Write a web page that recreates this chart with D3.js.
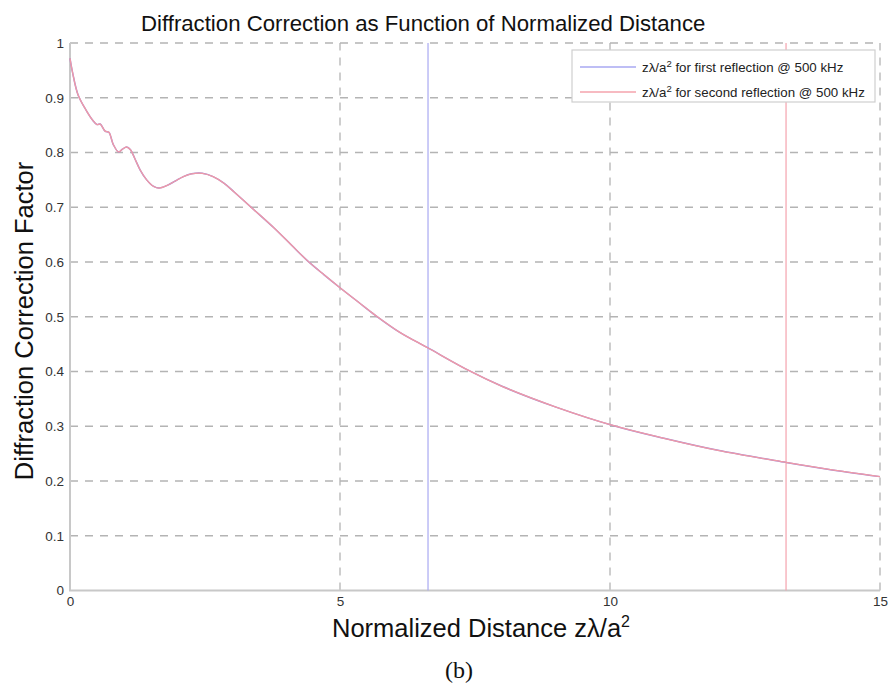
<!DOCTYPE html>
<html>
<head>
<meta charset="utf-8">
<script src="https://cdn.jsdelivr.net/npm/d3@7"></script>
<style>
  html, body { margin: 0; padding: 0; background: #fff; }
  svg { display: block; }
</style>
</head>
<body>
<div id="chart"></div>
<script>
/* diffraction correction vs normalized distance z*lambda/a^2 */

// normalized distance samples
var distance = [0, 0.05, 0.15, 0.3, 0.42, 0.5, 0.56, 0.65, 0.72, 0.8, 0.9, 0.97, 1.05, 1.12,
  1.2, 1.3, 1.42, 1.55, 1.65, 1.8, 1.95, 2.1, 2.25, 2.45, 2.65, 2.85, 3.05, 3.4, 3.77,
  4.1, 4.39, 4.7, 5.0, 5.35, 5.65, 6.1, 6.63, 7.4, 8.0, 9.0, 10.07, 11, 12, 13.26, 14, 15];

// diffraction correction factor, first reflection @ 500 kHz
var firstReflection = [0.972, 0.945, 0.905, 0.877, 0.859, 0.851, 0.852, 0.839, 0.837, 0.815, 0.801,
  0.806, 0.81, 0.805, 0.789, 0.768, 0.75, 0.738, 0.735, 0.74, 0.748, 0.756, 0.761, 0.762,
  0.756, 0.744, 0.727, 0.696, 0.663, 0.631, 0.603, 0.577, 0.553, 0.526, 0.503, 0.472, 0.443,
  0.401, 0.373, 0.335, 0.301, 0.278, 0.256, 0.234, 0.222, 0.208];

// second reflection overlaps the first on this plot
var secondReflection = [0.972, 0.945, 0.905, 0.877, 0.859, 0.851, 0.852, 0.839, 0.837, 0.815, 0.801,
  0.806, 0.81, 0.805, 0.789, 0.768, 0.75, 0.738, 0.735, 0.74, 0.748, 0.756, 0.761, 0.762,
  0.756, 0.744, 0.727, 0.696, 0.663, 0.631, 0.603, 0.577, 0.553, 0.526, 0.503, 0.472, 0.443,
  0.401, 0.373, 0.335, 0.301, 0.278, 0.256, 0.234, 0.222, 0.208];

// normalized distance of each reflection marker
var reflectionMarks = [6.63, 13.26];

var xTicks = [0, 5, 10, 15];
var yTicks = [0, 0.1, 0.2, 0.3, 0.4, 0.5, 0.6, 0.7, 0.8, 0.9, 1];

var W = 891, H = 692;
var SANS = 'Liberation Sans, Arial, Helvetica, sans-serif';
var BLUE = '#a9a9f2', RED = '#f4a3ad';

var svg = d3.select('#chart').append('svg')
  .attr('width', W).attr('height', H);

var x = d3.scaleLinear().domain([0, 15]).range([70, 880]);
var y = d3.scaleLinear().domain([0, 1]).range([590.5, 43]);

/* grid */
var grid = svg.append('g')
  .attr('stroke', '#b4b4b4').attr('stroke-width', 1.3)
  .attr('stroke-dasharray', '8,7');
grid.selectAll('line.h').data(yTicks.slice(1)).enter().append('line')
  .attr('x1', x(0)).attr('x2', x(15))
  .attr('y1', function (d) { return y(d); }).attr('y2', function (d) { return y(d); });
grid.selectAll('line.v').data(xTicks.slice(1)).enter().append('line')
  .attr('y1', y(0)).attr('y2', y(1))
  .attr('x1', function (d) { return x(d); }).attr('x2', function (d) { return x(d); });

/* axes */
var yAxis = svg.append('g').attr('transform', 'translate(' + x(0) + ',0)')
  .call(d3.axisLeft(y).tickValues(yTicks).tickSize(0).tickPadding(6)
    .tickFormat(function (d) { return String(+d.toFixed(1)); }));
var xAxis = svg.append('g').attr('transform', 'translate(0,' + y(0) + ')')
  .call(d3.axisBottom(x).tickValues(xTicks).tickSize(0).tickPadding(6)
    .tickFormat(d3.format('d')));
[yAxis, xAxis].forEach(function (a) {
  a.select('.domain').remove();
  a.selectAll('text').attr('font-family', SANS).attr('font-size', 13.5).attr('fill', '#333');
});
svg.append('path')
  .attr('d', 'M' + x(0) + ',' + y(1) + 'V' + y(0) + 'H' + x(15))
  .attr('fill', 'none').attr('stroke', '#c8c8c8').attr('stroke-width', 2);

/* reflection markers */
svg.selectAll('line.mark').data(reflectionMarks).enter().append('line')
  .attr('x1', function (d) { return x(d); }).attr('x2', function (d) { return x(d); })
  .attr('y1', y(0)).attr('y2', y(1))
  .attr('stroke', function (d, i) { return i === 0 ? BLUE : RED; })
  .attr('stroke-width', 1.2);

/* curves */
var line = d3.line()
  .x(function (d) { return x(d[0]); })
  .y(function (d) { return y(d[1]); })
  .curve(d3.curveCatmullRom);

svg.append('path')
  .datum(d3.zip(distance, firstReflection))
  .attr('d', line).attr('fill', 'none')
  .attr('stroke', '#a08ad8').attr('stroke-width', 1.5);
svg.append('path')
  .datum(d3.zip(distance, secondReflection))
  .attr('d', line).attr('fill', 'none')
  .attr('stroke', '#f09aa6').attr('stroke-width', 1.3);

/* legend */
var lg = svg.append('g');
lg.append('rect')
  .attr('x', 572).attr('y', 50).attr('width', 303).attr('height', 52)
  .attr('fill', '#fff').attr('stroke', '#cfcfcf').attr('stroke-width', 1.2);
var entries = [
  { label: ' for first reflection @ 500 kHz', color: BLUE },
  { label: ' for second reflection @ 500 kHz', color: RED }
];
entries.forEach(function (e, i) {
  var ly = 67 + i * 25;
  lg.append('line')
    .attr('x1', 580).attr('x2', 636).attr('y1', ly).attr('y2', ly)
    .attr('stroke', e.color).attr('stroke-width', 1.3);
  var t = lg.append('text')
    .attr('x', 642).attr('y', ly + 4.5)
    .attr('font-family', SANS).attr('font-size', 13.3).attr('fill', '#222');
  t.append('tspan').text('z\u03bb/a');
  t.append('tspan').attr('dy', -5).attr('font-size', 9.5).text('2');
  t.append('tspan').attr('dy', 5).text(e.label);
});

/* titles */
svg.append('text')
  .attr('x', 141).attr('y', 31)
  .attr('font-family', SANS).attr('font-size', 22.2).attr('fill', '#111')
  .text('Diffraction Correction as Function of Normalized Distance');

svg.append('text')
  .attr('transform', 'translate(33,321) rotate(-90)')
  .attr('text-anchor', 'middle')
  .attr('font-family', SANS).attr('font-size', 25.5).attr('fill', '#111')
  .text('Diffraction Correction Factor');

var xl = svg.append('text')
  .attr('x', 481).attr('y', 637)
  .attr('text-anchor', 'middle')
  .attr('font-family', SANS).attr('font-size', 25.5).attr('fill', '#111');
xl.append('tspan').text('Normalized Distance z\u03bb/a');
xl.append('tspan').attr('dy', -10).attr('font-size', 16).text('2');

svg.append('text')
  .attr('x', 459).attr('y', 678)
  .attr('text-anchor', 'middle')
  .attr('font-family', 'Liberation Serif, Times New Roman, serif')
  .attr('font-size', 24).attr('fill', '#111')
  .text('(b)');
</script>
</body>
</html>
